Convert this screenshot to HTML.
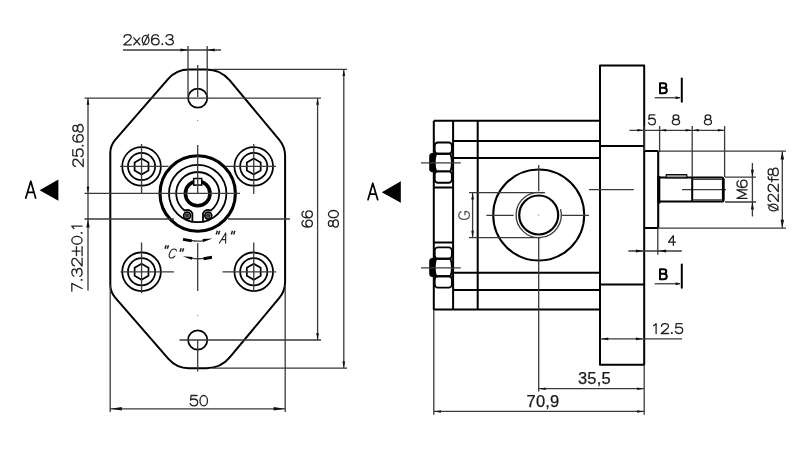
<!DOCTYPE html>
<html><head><meta charset="utf-8"><title>drawing</title>
<style>
html,body{margin:0;padding:0;background:#fff;}
body{width:800px;height:450px;overflow:hidden;font-family:"Liberation Sans",sans-serif;}
svg{display:block;will-change:transform;opacity:0.999}
.k{fill:none;stroke:#000;stroke-width:2;stroke-linejoin:round}
.m{fill:none;stroke:#000;stroke-width:1.75}
.t{fill:none;stroke:#3a3a3a;stroke-width:1.3}
.h{fill:none;stroke:#000;stroke-width:3}
.a polygon{fill:#111;stroke:none}
text{font-family:"Liberation Sans",sans-serif;fill:#1a1a1a}
.c{font-size:16px}
.ar{font-size:16.5px;stroke:#1a1a1a;stroke-width:0.25px}
.b{font-size:17px;font-weight:bold;fill:#000}
.big{font-size:25px}
.i{font-size:15px;font-style:italic}
</style></head><body>
<svg width="800" height="450" viewBox="0 0 800 450">
<rect width="800" height="450" fill="#fff"/>

<path class="k" d="M168.43 78.68 A27.00 27.00 0 0 1 188.80 69.40 L206.52 69.40 A30.00 30.00 0 0 1 229.56 80.19 L279.31 139.89 A25.00 25.00 0 0 1 285.10 155.89 L285.10 281.91 A25.00 25.00 0 0 1 279.31 297.91 L229.73 357.41 A30.00 30.00 0 0 1 206.68 368.20 L188.80 368.20 A27.00 27.00 0 0 1 168.43 358.92 L115.21 297.71 A20.00 20.00 0 0 1 110.30 284.59 L110.30 153.01 A20.00 20.00 0 0 1 115.21 139.89 Z"/>
<circle class="m" cx="197.7" cy="98.1" r="9.6"/>
<circle class="m" cx="197.7" cy="340" r="9.6"/>
<g class="m"><circle cx="141.55" cy="166.4" r="19.3"/><circle cx="141.55" cy="166.4" r="13.6"/><polygon points="141.55,158.40 148.48,162.40 148.48,170.40 141.55,174.40 134.62,170.40 134.62,162.40"/></g>
<path class="t" d="M120 166.4 H168.5 M141.55 144 V193.5"/>
<g class="m"><circle cx="253.75" cy="166.4" r="19.3"/><circle cx="253.75" cy="166.4" r="13.6"/><polygon points="253.75,158.40 260.68,162.40 260.68,170.40 253.75,174.40 246.82,170.40 246.82,162.40"/></g>
<path class="t" d="M226 166.4 H276 M253.75 144 V194"/>
<g class="m"><circle cx="141.55" cy="271.8" r="19.3"/><circle cx="141.55" cy="271.8" r="13.6"/><polygon points="141.55,263.80 148.48,267.80 148.48,275.80 141.55,279.80 134.62,275.80 134.62,267.80"/></g>
<path class="t" d="M120.5 271.8 H174 M141.55 242.5 V293"/>
<g class="m"><circle cx="253.75" cy="271.8" r="19.3"/><circle cx="253.75" cy="271.8" r="13.6"/><polygon points="253.75,263.80 260.68,267.80 260.68,275.80 253.75,279.80 246.82,275.80 246.82,267.80"/></g>
<path class="t" d="M222.5 271.8 H276.2 M253.75 242.5 V292"/>
<circle cx="197.7" cy="193.5" r="37.7" fill="#fff" stroke="#000" stroke-width="3.1"/>
<circle class="m" style="stroke-width:1.8" cx="197.7" cy="193.5" r="28.7"/>
<path class="m" style="stroke-width:1.8" d="M192.40 221.71 V213.37 A5.75 5.75 0 0 0 184.50 210.47 A21.5 21.5 0 1 1 210.90 210.47 A5.75 5.75 0 0 0 203.00 213.37 V221.71"/>
<circle cx="187.10" cy="215.6" r="3.5" fill="#999" stroke="#000" stroke-width="1.6"/>
<circle cx="187.10" cy="215.6" r="2.2" fill="#333"/>
<circle cx="208.30" cy="215.6" r="3.5" fill="#999" stroke="#000" stroke-width="1.6"/>
<circle cx="208.30" cy="215.6" r="2.2" fill="#333"/>
<circle cx="197.7" cy="193.5" r="12.3" fill="#fff" stroke="#000" stroke-width="3.6"/>
<rect x="193.7" y="178.5" width="8" height="6.6" fill="#fff" stroke="#000" stroke-width="1.5"/>
<path class="t" d="M197.7 145 V193.3 M197.7 180 V184"/>
<path class="t" d="M84.5 193.4 H240"/>
<path class="t" d="M84.5 219 H174 M228 219 H290"/>
<path class="t" d="M197.7 243 V291"/>
<rect x="197.2" y="120" width="0.9" height="0.9" fill="#555"/><rect x="197.2" y="315.2" width="0.9" height="0.9" fill="#555"/>
<path class="t" d="M191 240.3 Q197.6 241.8 204 240.6"/>
<path d="M183.2 238.0 L192 239.4 L191.6 242.2 L182.8 240.8 Z" fill="#000"/>
<path d="M212.5 238.4 L202.6 239.0 L203.2 242.0 Z" fill="#000"/>
<path class="t" d="M191 258.2 Q197.6 259.2 204 258.4"/>
<path d="M182.8 256.2 L192.4 257.0 L191.8 259.8 Z" fill="#000"/>
<path d="M203.4 257.2 L211.8 255.8 L212.2 258.8 L203.8 260.2 Z" fill="#000"/>
<path class="t" style="stroke-width:1.5;stroke:#222" d="M216.2 234.4 L217.4 230.8 M218.5 234.4 L219.7 230.8 M231.3 234.4 L232.5 230.8 M233.7 234.4 L234.9 230.8"/>
<path class="t" style="stroke-width:1.5;stroke:#222" d="M165.0 248.8 L166.2 245.2 M167.3 248.8 L168.5 245.2 M180.0 251.8 L181.2 248.2 M182.4 251.8 L183.6 248.2"/>
<path class="t" d="M123 50 H221 M188 46 V96 M207.2 46 V96"/>
<g class="a"><polygon points="188.00,50.00 180.50,48.60 180.50,51.40"/><polygon points="207.20,50.00 214.70,48.60 214.70,51.40"/></g>
<path class="t" d="M197.7 65 V97"/>
<path class="t" d="M212 69.4 H347 M84.5 98.1 H321 M179.5 340 H321 M212 368.2 H347"/>
<path class="t" d="M197.7 340 V371.5"/>
<path class="t" d="M317.6 98.1 V340 M343.8 69.4 V368.2"/>
<g class="a"><polygon points="317.60,98.60 316.20,104.80 319.00,104.80"/><polygon points="317.60,339.50 316.20,333.30 319.00,333.30"/><polygon points="343.80,69.90 342.40,76.10 345.20,76.10"/><polygon points="343.80,367.70 342.40,361.50 345.20,361.50"/></g>
<path class="t" d="M88 98.1 V290.5"/>
<g class="a"><polygon points="88.00,98.60 86.60,104.80 89.40,104.80"/><polygon points="88.00,193.00 86.60,186.80 89.40,186.80"/><polygon points="88.00,219.40 86.30,227.40 89.70,227.40"/></g>
<path class="t" d="M110.2 285 V412 M285.2 285 V412 M110 408.8 H285.3"/>
<g class="a"><polygon points="110.80,408.80 121.80,407.00 121.80,410.60"/><polygon points="284.60,408.80 273.60,407.00 273.60,410.60"/></g>
<polygon points="39.6,190.2 58.4,179.4 58.4,200.8" fill="#000"/>
<polygon points="381.8,192.2 400.8,181.2 400.8,202.8" fill="#000"/>
<path class="k" d="M600 120.7 H433.8 M433.8 120.7 V309.4 H600 M453.1 120.7 V309.4 M477.7 120.7 V309.4"/>
<path class="k" d="M453.1 141 H600 M453.1 157.9 H600 M453.1 272.8 H600 M453.1 290.1 H600"/>
<path class="k" d="M433.8 187.5 H453.1 M433.8 242.6 H453.1"/>
<rect class="k" x="600" y="65.5" width="44.200000000000045" height="299.3"/>
<path class="k" d="M600 146 H644.2 M600 284.4 H644.2"/>
<g class="m" fill="#fff" style="stroke-width:1.9"><rect x="434.7" y="142.5" width="17.19999999999999" height="11.3" rx="3.2"/><rect x="434.7" y="171.4" width="17.19999999999999" height="11.3" rx="3.2"/><path d="M436.09999999999997 153.79999999999998 H450.5 Q453.5 162.6 450.5 171.4 H436.09999999999997 Q433.09999999999997 162.6 436.09999999999997 153.79999999999998 Z"/></g><path d="M435.2 153.0 L431.6 153.0 Q429.2 153.4 429.2 156.0 V169.2 Q429.2 171.79999999999998 431.6 172.2 L435.2 172.2 Z" fill="#000"/><path class="t" d="M421 162.9 H460.8"/>
<g class="m" fill="#fff" style="stroke-width:1.9"><rect x="434.7" y="247.4" width="17.19999999999999" height="11.3" rx="3.2"/><rect x="434.7" y="276.3" width="17.19999999999999" height="11.3" rx="3.2"/><path d="M436.09999999999997 258.7 H450.5 Q453.5 267.5 450.5 276.3 H436.09999999999997 Q433.09999999999997 267.5 436.09999999999997 258.7 Z"/></g><path d="M435.2 257.9 L431.6 257.9 Q429.2 258.3 429.2 260.9 V274.1 Q429.2 276.7 431.6 277.1 L435.2 277.1 Z" fill="#000"/><path class="t" d="M421 267.8 H460.8"/>
<circle class="k" cx="538.7" cy="215" r="45.5"/>
<circle cx="538.7" cy="215" r="19.5" fill="none" stroke="#000" stroke-width="2.2"/>
<path class="t" d="M543.40 192.89 A22.6 22.6 0 1 0 560.53 209.15"/>
<path class="t" d="M486.4 215.3 H513.6 M562 215.3 H589 M538.7 165 V191 M538.7 237.6 V391.6"/>
<rect x="538.2" y="214.6" width="1" height="0.9" fill="#555"/>
<path class="t" d="M469 192.6 H545 M469 237.6 H541 M472.6 192.6 V237.6"/>
<g class="a"><polygon points="472.60,193.00 471.30,199.50 473.90,199.50"/><polygon points="472.60,237.20 471.30,230.70 473.90,230.70"/></g>
<path class="t" d="M589 189.7 H633.8 M682 189.7 H726"/>
<path class="k" d="M644.2 151.1 H657.9 M657.9 228.1 H644.2"/>
<path class="m" style="stroke-width:2.1" d="M658.2 151 V228.2"/>
<path class="k" d="M658 177.6 H721.8 Q723.4 177.6 723.4 179.2 V200.0 Q723.4 201.6 721.8 201.6 H658 M692.2 177.6 V201.6"/>
<path class="h" d="M658.8 176 V203.6"/>
<path d="M723.2 178.6 V200.6" fill="none" stroke="#000" stroke-width="2.6"/>
<path class="t" d="M692.2 179.4 H722.6 M692.2 199.9 H722.6"/>
<rect x="666.2" y="174.6" width="20.6" height="3.2" fill="#999" stroke="#000" stroke-width="1.1"/>
<path class="t" d="M629.5 130.3 H724.4 M644.2 126 V151 M659.6 126 V152 M692.2 126 V177 M724.6 126 V177"/>
<g class="a"><polygon points="643.40,130.30 637.40,129.00 637.40,131.60"/><polygon points="660.20,130.30 666.20,129.00 666.20,131.60"/><polygon points="691.60,130.30 685.60,129.00 685.60,131.60"/><polygon points="692.80,130.30 698.80,129.00 698.80,131.60"/><polygon points="723.80,130.30 717.80,129.00 717.80,131.60"/></g>
<path class="t" d="M657.7 151.1 H786 M657.7 228.1 H786 M782.3 151.2 V228.1"/>
<g class="a"><polygon points="782.30,151.80 780.50,159.60 784.10,159.60"/><polygon points="782.30,227.50 780.50,219.70 784.10,219.70"/></g>
<path class="t" d="M725 177.2 H756 M725 202 H756 M752.4 163 V216.4"/>
<g class="a"><polygon points="752.40,177.20 750.90,169.70 753.90,169.70"/><polygon points="752.40,202.00 750.90,209.50 753.90,209.50"/></g>
<path class="t" d="M628.4 251 H681.8 M657.8 228.1 V254.8"/>
<g class="a"><polygon points="643.40,251.00 635.90,249.60 635.90,252.40"/><polygon points="658.60,251.00 666.10,249.60 666.10,252.40"/></g>
<path d="M660.00 93.20L660.00 83.20L663.66 83.20C665.41 83.20 666.28 84.00 666.28 85.50C666.28 87.00 665.41 87.80 663.66 87.80L660.00 87.80M663.66 87.80C665.75 87.80 666.80 88.80 666.80 90.50C666.80 92.20 665.75 93.20 663.66 93.20L660.00 93.20" fill="none" stroke="#000" stroke-width="2.0" stroke-linecap="round" stroke-linejoin="round"/>
<path class="t" d="M654.8 97.75 H680"/>
<g class="a"><polygon points="680.60,97.75 675.60,96.35 675.60,99.15"/></g>
<path d="M681.8 78.6 V101.8" stroke="#000" stroke-width="2" stroke-linecap="round" fill="none"/>
<path d="M660.00 279.20L660.00 269.20L663.66 269.20C665.41 269.20 666.28 270.00 666.28 271.50C666.28 273.00 665.41 273.80 663.66 273.80L660.00 273.80M663.66 273.80C665.75 273.80 666.80 274.80 666.80 276.50C666.80 278.20 665.75 279.20 663.66 279.20L660.00 279.20" fill="none" stroke="#000" stroke-width="2.0" stroke-linecap="round" stroke-linejoin="round"/>
<path class="t" d="M654.8 283.75 H680"/>
<g class="a"><polygon points="680.60,283.75 675.60,282.35 675.60,285.15"/></g>
<path d="M681.8 264.6 V287.8" stroke="#000" stroke-width="2" stroke-linecap="round" fill="none"/>
<path class="t" d="M600 338.9 H682"/>
<g class="a"><polygon points="600.80,338.90 608.30,337.50 608.30,340.30"/><polygon points="643.40,338.90 635.90,337.50 635.90,340.30"/></g>
<path class="t" d="M538.7 388.7 H644.2 M433.8 411.4 H644.2 M433.8 309.4 V414.8 M644.2 364.8 V414.8"/>
<g class="a"><polygon points="539.20,388.70 545.70,387.45 545.70,389.95"/><polygon points="643.60,388.70 637.10,387.45 637.10,389.95"/><polygon points="434.40,411.40 440.90,410.15 440.90,412.65"/><polygon points="643.60,411.40 637.10,410.15 637.10,412.65"/></g>
<text class="ar" x="578" y="383.6" textLength="32.6" lengthAdjust="spacing">35,5</text>
<text class="ar" x="526.6" y="407.2" textLength="32.6" lengthAdjust="spacing">70,9</text>
<path d="M124.04 37.26C124.25 35.64 125.55 34.62 127.61 34.62C129.77 34.62 131.18 35.64 131.18 37.26C131.18 38.68 130.10 39.70 128.36 41.02L123.82 44.78L131.39 44.78M133.78 37.87L139.84 44.78M139.84 37.87L133.78 44.78M148.92 39.90C148.92 37.38 147.42 35.33 145.57 35.33C143.72 35.33 142.22 37.38 142.22 39.90C142.22 42.43 143.72 44.48 145.57 44.48C147.42 44.48 148.92 42.43 148.92 39.90M143.08 45.08L148.49 34.42M158.45 36.25C158.01 35.23 156.93 34.62 155.63 34.62C152.93 34.62 151.52 36.65 151.52 40.21C151.52 43.26 152.93 44.78 155.42 44.78C157.69 44.78 159.10 43.46 159.10 41.53C159.10 39.60 157.69 38.38 155.53 38.38C153.47 38.38 151.95 39.50 151.63 41.12M162.13 44.68L162.13 43.97M162.56 44.68L162.56 43.97M166.02 36.65C166.56 35.33 167.75 34.62 169.48 34.62C171.54 34.62 172.84 35.64 172.84 37.06C172.84 38.48 171.54 39.29 169.05 39.29C171.76 39.29 173.38 40.31 173.38 42.04C173.38 43.76 171.87 44.78 169.48 44.78C167.43 44.78 166.24 43.97 165.81 42.54" fill="none" stroke="#222" stroke-width="1.3" stroke-linecap="round" stroke-linejoin="round"/>
<path d="M75.51 166.46C73.86 166.24 72.82 164.93 72.82 162.86C72.82 160.67 73.86 159.25 75.51 159.25C76.96 159.25 78.00 160.35 79.35 162.09L83.18 166.68L83.18 159.03M72.82 149.64L72.82 155.65L77.38 156.19C76.76 155.32 76.34 154.12 76.34 152.81C76.34 150.52 77.79 148.99 79.76 148.99C81.83 148.99 83.18 150.52 83.18 152.92C83.18 154.88 82.35 156.09 80.90 156.63M83.08 145.93L82.35 145.93M83.08 145.49L82.35 145.49M74.48 135.22C73.44 135.66 72.82 136.75 72.82 138.06C72.82 140.79 74.89 142.21 78.52 142.21C81.63 142.21 83.18 140.79 83.18 138.28C83.18 135.99 81.83 134.57 79.86 134.57C77.90 134.57 76.65 135.99 76.65 138.17C76.65 140.25 77.79 141.78 79.45 142.10M75.20 125.28C73.89 125.28 72.82 126.65 72.82 128.34C72.82 130.03 73.89 131.40 75.20 131.40C76.52 131.40 77.59 130.03 77.59 128.34C77.59 126.65 76.52 125.28 75.20 125.28M80.38 124.52C78.84 124.52 77.59 126.23 77.59 128.34C77.59 130.45 78.84 132.17 80.38 132.17C81.93 132.17 83.18 130.45 83.18 128.34C83.18 126.23 81.93 124.52 80.38 124.52" fill="none" stroke="#222" stroke-width="1.3" stroke-linecap="round" stroke-linejoin="round"/>
<path d="M71.82 291.18L71.82 283.32L82.08 288.48M81.98 280.17L81.26 280.17M81.98 279.72L81.26 279.72M73.87 276.13C72.54 275.57 71.82 274.33 71.82 272.53C71.82 270.40 72.85 269.05 74.28 269.05C75.72 269.05 76.54 270.40 76.54 272.98C76.54 270.18 77.57 268.49 79.31 268.49C81.05 268.49 82.08 270.06 82.08 272.53C82.08 274.67 81.26 275.90 79.82 276.35M74.49 265.79C72.85 265.57 71.82 264.22 71.82 262.09C71.82 259.84 72.85 258.38 74.49 258.38C75.92 258.38 76.95 259.50 78.28 261.30L82.08 266.02L82.08 258.16M76.44 255.69L76.44 246.70M80.03 251.19L72.23 251.19M82.08 255.69L82.08 246.70M76.95 236.37C74.12 236.37 71.82 238.13 71.82 240.30C71.82 242.47 74.12 244.23 76.95 244.23C79.78 244.23 82.08 242.47 82.08 240.30C82.08 238.13 79.78 236.37 76.95 236.37M81.98 233.22L81.26 233.22M81.98 232.77L81.26 232.77M73.87 228.73L71.82 226.03L82.08 226.03" fill="none" stroke="#222" stroke-width="1.3" stroke-linecap="round" stroke-linejoin="round"/>
<path d="M303.59 220.66C302.55 221.06 301.92 222.06 301.92 223.27C301.92 225.78 304.01 227.08 307.67 227.08C310.81 227.08 312.38 225.78 312.38 223.47C312.38 221.36 311.02 220.05 309.03 220.05C307.05 220.05 305.79 221.36 305.79 223.37C305.79 225.27 306.94 226.68 308.61 226.98M303.59 211.42C302.55 211.82 301.92 212.83 301.92 214.03C301.92 216.54 304.01 217.85 307.67 217.85C310.81 217.85 312.38 216.54 312.38 214.23C312.38 212.12 311.02 210.82 309.03 210.82C307.05 210.82 305.79 212.12 305.79 214.13C305.79 216.04 306.94 217.44 308.61 217.75" fill="none" stroke="#222" stroke-width="1.3" stroke-linecap="round" stroke-linejoin="round"/>
<path d="M330.71 220.64C329.45 220.64 328.42 221.92 328.42 223.50C328.42 225.08 329.45 226.36 330.71 226.36C331.98 226.36 333.00 225.08 333.00 223.50C333.00 221.92 331.98 220.64 330.71 220.64M335.69 219.92C334.21 219.92 333.00 221.53 333.00 223.50C333.00 225.48 334.21 227.08 335.69 227.08C337.18 227.08 338.38 225.48 338.38 223.50C338.38 221.53 337.18 219.92 335.69 219.92M333.40 210.52C330.65 210.52 328.42 212.12 328.42 214.10C328.42 216.07 330.65 217.68 333.40 217.68C336.15 217.68 338.38 216.07 338.38 214.10C338.38 212.12 336.15 210.52 333.40 210.52" fill="none" stroke="#222" stroke-width="1.3" stroke-linecap="round" stroke-linejoin="round"/>
<path d="M196.98 395.52L191.08 395.52L190.55 400.03C191.41 399.42 192.58 399.01 193.87 399.01C196.12 399.01 197.62 400.44 197.62 402.39C197.62 404.45 196.12 405.78 193.76 405.78C191.83 405.78 190.66 404.96 190.12 403.52M207.48 400.65C207.48 397.82 205.80 395.52 203.73 395.52C201.66 395.52 199.98 397.82 199.98 400.65C199.98 403.48 201.66 405.78 203.73 405.78C205.80 405.78 207.48 403.48 207.48 400.65" fill="none" stroke="#222" stroke-width="1.3" stroke-linecap="round" stroke-linejoin="round"/>
<path d="M654.78 114.92L649.31 114.92L648.82 119.26C649.61 118.67 650.71 118.27 651.90 118.27C653.99 118.27 655.38 119.65 655.38 121.53C655.38 123.50 653.99 124.78 651.80 124.78C650.01 124.78 648.92 123.99 648.42 122.61" fill="none" stroke="#222" stroke-width="1.3" stroke-linecap="round" stroke-linejoin="round"/>
<path d="M678.85 117.19C678.85 115.94 677.55 114.92 675.95 114.92C674.35 114.92 673.05 115.94 673.05 117.19C673.05 118.44 674.35 119.46 675.95 119.46C677.55 119.46 678.85 118.44 678.85 117.19M679.58 122.12C679.58 120.65 677.95 119.46 675.95 119.46C673.95 119.46 672.32 120.65 672.32 122.12C672.32 123.59 673.95 124.78 675.95 124.78C677.95 124.78 679.58 123.59 679.58 122.12" fill="none" stroke="#222" stroke-width="1.3" stroke-linecap="round" stroke-linejoin="round"/>
<path d="M710.77 117.19C710.77 115.94 709.51 114.92 707.95 114.92C706.39 114.92 705.13 115.94 705.13 117.19C705.13 118.44 706.39 119.46 707.95 119.46C709.51 119.46 710.77 118.44 710.77 117.19M711.48 122.12C711.48 120.65 709.90 119.46 707.95 119.46C706.00 119.46 704.42 120.65 704.42 122.12C704.42 123.59 706.00 124.78 707.95 124.78C709.90 124.78 711.48 123.59 711.48 122.12" fill="none" stroke="#222" stroke-width="1.3" stroke-linecap="round" stroke-linejoin="round"/>
<path d="M747.08 198.28L736.92 198.28L746.06 194.06L736.92 189.83L747.08 189.83M738.55 180.75C737.53 181.18 736.92 182.23 736.92 183.50C736.92 186.14 738.95 187.51 742.51 187.51C745.56 187.51 747.08 186.14 747.08 183.71C747.08 181.49 745.76 180.12 743.83 180.12C741.90 180.12 740.68 181.49 740.68 183.60C740.68 185.61 741.80 187.09 743.42 187.41" fill="none" stroke="#222" stroke-width="1.3" stroke-linecap="round" stroke-linejoin="round"/>
<path d="M773.40 204.21C770.88 204.21 768.83 205.70 768.83 207.54C768.83 209.37 770.88 210.87 773.40 210.87C775.93 210.87 777.98 209.37 777.98 207.54C777.98 205.70 775.93 204.21 773.40 204.21M778.58 210.01L767.92 204.64M770.76 201.41C769.14 201.20 768.12 199.91 768.12 197.87C768.12 195.72 769.14 194.33 770.76 194.33C772.18 194.33 773.20 195.40 774.52 197.12L778.28 201.63L778.28 194.11M770.76 191.53C769.14 191.32 768.12 190.03 768.12 187.99C768.12 185.84 769.14 184.44 770.76 184.44C772.18 184.44 773.20 185.52 774.52 187.24L778.28 191.75L778.28 184.23M768.12 176.71C768.12 178.65 768.63 179.72 770.36 179.72L778.28 179.72M771.78 181.87L771.78 176.93M770.46 168.87C769.17 168.87 768.12 170.22 768.12 171.88C768.12 173.54 769.17 174.89 770.46 174.89C771.75 174.89 772.79 173.54 772.79 171.88C772.79 170.22 771.75 168.87 770.46 168.87M775.54 168.12C774.02 168.12 772.79 169.80 772.79 171.88C772.79 173.96 774.02 175.64 775.54 175.64C777.05 175.64 778.28 173.96 778.28 171.88C778.28 169.80 777.05 168.12 775.54 168.12" fill="none" stroke="#222" stroke-width="1.3" stroke-linecap="round" stroke-linejoin="round"/>
<path d="M673.35 245.28L673.35 235.72L668.52 242.13L675.48 242.13" fill="none" stroke="#222" stroke-width="1.3" stroke-linecap="round" stroke-linejoin="round"/>
<path d="M653.56 325.67L656.11 323.72L656.11 333.48M661.42 326.26C661.64 324.70 662.91 323.72 664.93 323.72C667.06 323.72 668.44 324.70 668.44 326.26C668.44 327.62 667.37 328.60 665.67 329.87L661.21 333.48L668.65 333.48M671.63 333.38L671.63 332.70M672.05 333.38L672.05 332.70M682.04 323.72L676.20 323.72L675.67 328.01C676.52 327.43 677.68 327.04 678.96 327.04C681.19 327.04 682.68 328.40 682.68 330.26C682.68 332.21 681.19 333.48 678.85 333.48C676.94 333.48 675.77 332.70 675.24 331.33" fill="none" stroke="#222" stroke-width="1.3" stroke-linecap="round" stroke-linejoin="round"/>
<path d="M461.09 211.64C459.47 212.49 458.72 213.76 458.72 215.25C458.72 217.79 460.87 219.28 464.10 219.28C467.33 219.28 469.48 217.79 469.48 215.25C469.48 212.91 467.97 211.32 464.96 211.32L464.96 214.82" fill="none" stroke="#555" stroke-width="1.3" stroke-linecap="round" stroke-linejoin="round"/>
<path d="M25.8 198.1 L30.8 181.2 L35.6 198.1 M27.6 192.4 H34.0" fill="none" stroke="#000" stroke-width="1.7" stroke-linecap="round" stroke-linejoin="round"/>
<path d="M368.0 199.7 L372.8 183.2 L377.7 199.7 M369.8 194.2 H375.9" fill="none" stroke="#000" stroke-width="1.7" stroke-linecap="round" stroke-linejoin="round"/>
<path d="M219.44 243.06L225.79 232.94L225.56 243.06M221.55 239.62L225.69 239.62" fill="none" stroke="#222" stroke-width="1.1" stroke-linecap="round" stroke-linejoin="round"/>
<path d="M176.47 250.95C176.30 249.58 175.55 248.94 174.33 248.94C172.23 248.94 170.41 250.76 169.52 253.50C168.63 256.24 169.26 258.06 171.36 258.06C172.59 258.06 173.76 257.42 174.81 256.05" fill="none" stroke="#222" stroke-width="1.1" stroke-linecap="round" stroke-linejoin="round"/>
</svg></body></html>
